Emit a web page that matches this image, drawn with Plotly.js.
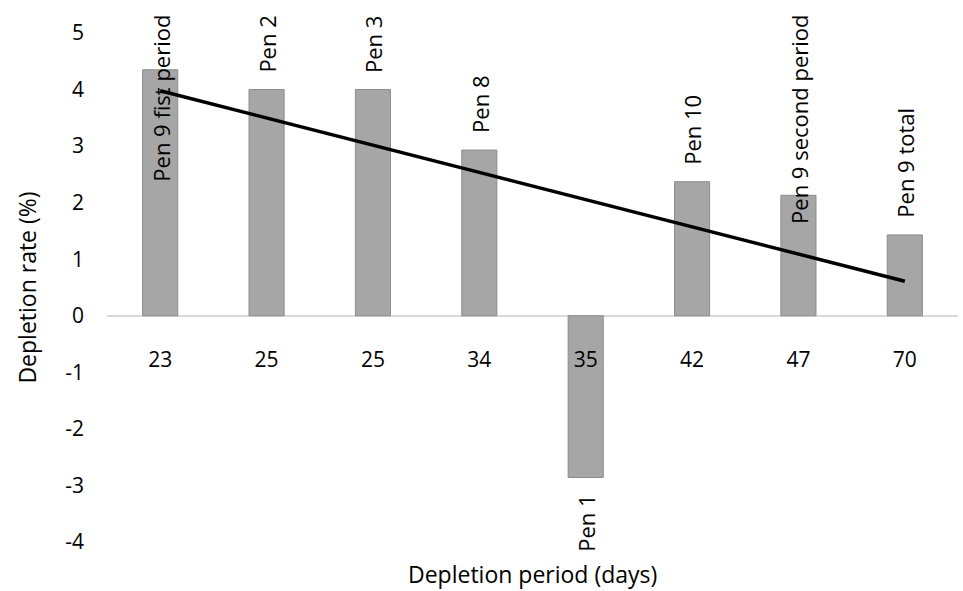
<!DOCTYPE html>
<html>
<head>
<meta charset="utf-8">
<script src="https://cdn.plot.ly/plotly-3.0.1.min.js"></script>
<style>
  html, body { margin: 0; padding: 0; background: #fff; }
  #chart { width: 963px; height: 591px; }
</style>
</head>
<body>
<div id="chart"></div>
<script>
// Depletion period of each pen (days) and its depletion rate (%)
const periodDays = ['23', '25', '25', '34', '35', '42', '47', '70'];
const penNames = ['Pen 9 fist period', 'Pen 2', 'Pen 3', 'Pen 8', 'Pen 1', 'Pen 10', 'Pen 9 second period', 'Pen 9 total'];
const depletionRate = [4.35, 4.0, 4.0, 2.93, -2.86, 2.37, 2.13, 1.43];
// Linear trend line, value at the first and the last period
const trendValues = [3.98, 0.61];
// Y axis ticks, written with a plain hyphen for negatives
const yTickValues = [-4, -3, -2, -1, 0, 1, 2, 3, 4, 5];
const yTickText = ['-4', '-3', '-2', '-1', '0', '1', '2', '3', '4', '5'];

const FONT = 'Open Sans, Lato, sans-serif';
const slots = periodDays.map((_, i) => i);   // one slot per pen (two pens share 25 days)

const bars = {
  type: 'bar',
  x: slots,
  y: depletionRate,
  width: 0.33,
  marker: { color: '#a6a6a6', line: { color: '#8c8c8c', width: 1 } },
  hoverinfo: 'x+y',
  showlegend: false
};

const trend = {
  type: 'scatter',
  mode: 'lines',
  x: [slots[0], slots[slots.length - 1]],
  y: trendValues,
  line: { color: '#000', width: 3.5 },
  hoverinfo: 'skip',
  showlegend: false
};

const yMin = -4, yMax = 5;
const plotHeightPx = 509;
const zeroPos = (0 - yMin) / (yMax - yMin);
const labelTopPaper = 1 + 20 / plotHeightPx;   // long labels stop just under the top edge

// Pen labels: rotated, outside the bar end; long ones are held inside the chart
const labelFontPx = 22;
const approxPx = s => s.length * labelFontPx * 0.47;
const pxPerUnit = plotHeightPx / (yMax - yMin);
const penLabels = penNames.map((name, i) => {
  const v = depletionRate[i];
  const base = {
    x: slots[i], text: name, showarrow: false, textangle: -90,
    font: { family: FONT, size: labelFontPx, color: '#000' }, xref: 'x', yref: 'y'
  };
  if (v < 0) return Object.assign(base, { y: v, yanchor: 'top', yshift: -15 });
  const topPx = (v - yMin) * pxPerUnit + 17 + approxPx(name);
  if (topPx > labelTopPaper * plotHeightPx) {
    return Object.assign(base, { yref: 'paper', y: labelTopPaper, yanchor: 'top' });
  }
  return Object.assign(base, { y: v, yanchor: 'bottom', yshift: 15 });
});

const layout = {
  width: 963,
  height: 591,
  margin: { l: 107, r: 5, t: 33, b: 49 },
  paper_bgcolor: '#fff',
  plot_bgcolor: '#fff',
  font: { family: FONT, color: '#000' },
  xaxis: {
    range: [-0.5, periodDays.length - 0.5],
    tickmode: 'array',
    tickvals: slots,
    ticktext: periodDays,
    anchor: 'free',
    position: zeroPos,
    showline: false,
    showgrid: false,
    zeroline: false,
    ticks: '',
    ticklabelstandoff: 29,
    tickfont: { family: FONT, size: 21, color: '#000' },
    fixedrange: true
  },
  yaxis: {
    range: [yMin, yMax],
    tickmode: 'array',
    tickvals: yTickValues,
    ticktext: yTickText,
    showgrid: false,
    zeroline: true,
    zerolinecolor: '#d9d9d9',
    zerolinewidth: 2,
    showline: false,
    ticks: '',
    ticklabelstandoff: 22,
    tickfont: { family: FONT, size: 21, color: '#000' },
    title: { text: 'Depletion rate (%)', font: { family: FONT, size: 23, color: '#000' }, standoff: 22 },
    fixedrange: true
  },
  annotations: penLabels.concat([{
    text: 'Depletion period (days)',
    xref: 'paper', yref: 'paper',
    x: 0.5, y: -0.062, yanchor: 'middle',
    borderpad: 0,
    showarrow: false,
    font: { family: FONT, size: 23, color: '#000' }
  }]),
  bargap: 0,
  showlegend: false
};

Plotly.newPlot('chart', [bars, trend], layout, { displayModeBar: false, staticPlot: true });
</script>
</body>
</html>
